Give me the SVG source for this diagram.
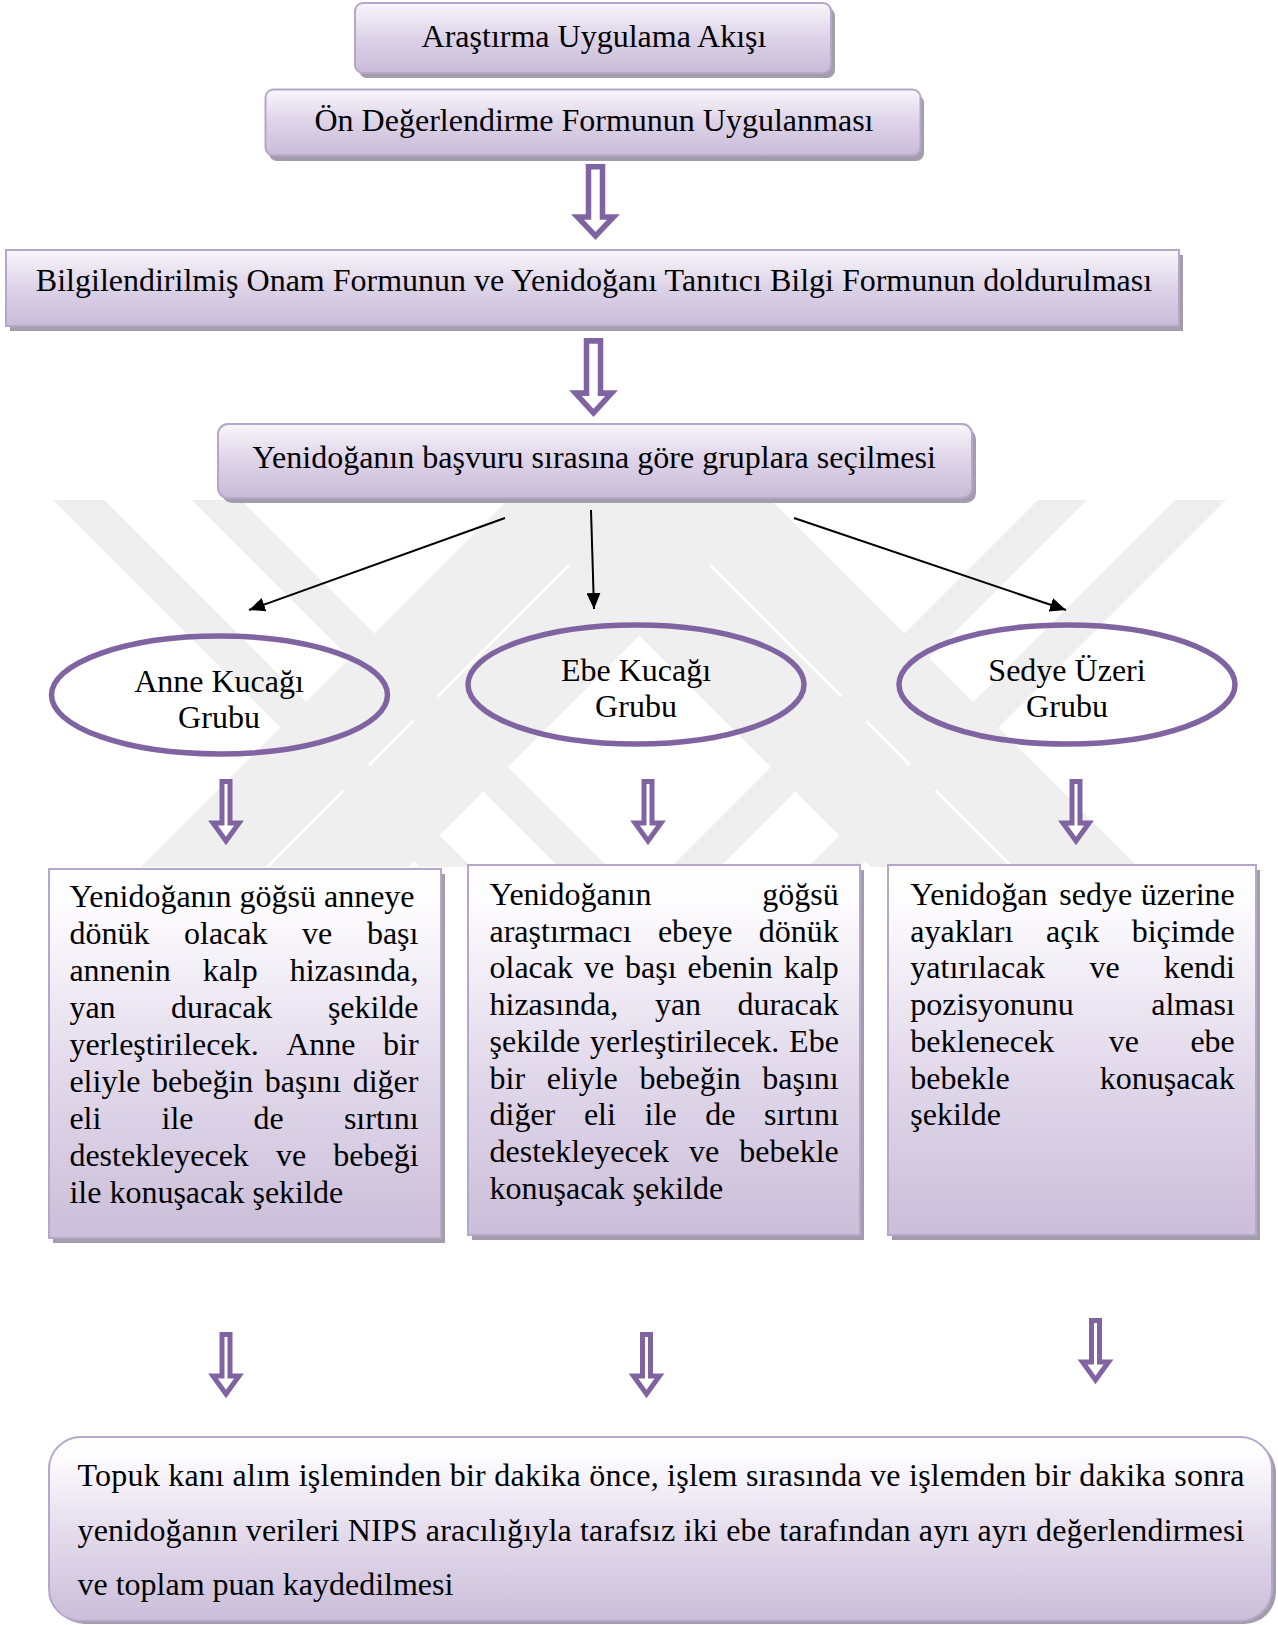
<svg xmlns="http://www.w3.org/2000/svg" width="1278" height="1625" viewBox="0 0 1278 1625">
<defs>
<linearGradient id="gHdr" x1="0" y1="0" x2="0" y2="1">
<stop offset="0" stop-color="#f8f6fb"/>
<stop offset="0.5" stop-color="#ddd3e8"/>
<stop offset="1" stop-color="#c9bbd8"/>
</linearGradient>
<linearGradient id="gTxt" x1="0" y1="0" x2="0" y2="1">
<stop offset="0" stop-color="#ffffff"/>
<stop offset="0.1" stop-color="#fdfcfe"/>
<stop offset="0.55" stop-color="#e2d9eb"/>
<stop offset="1" stop-color="#cbbed9"/>
</linearGradient>
<clipPath id="wmClip"><rect x="50" y="500" width="1180" height="367"/></clipPath>
<marker id="ah" markerUnits="userSpaceOnUse" markerWidth="18" markerHeight="14" refX="16" refY="7" orient="auto">
<path d="M0,0 L16,7 L0,14 Z" fill="#000"/>
</marker>
<path id="bigArrow" d="M-7,2.75 H7 V53 H18 L0,72 L-18,53 H-7 Z"/>
<path id="smallArrow" d="M-4,2.5 H4 V44 H13 L0,62 L-13,44 H-4 Z"/>
</defs>
<style>
.t{font-family:"Liberation Serif","Times New Roman",serif;font-size:32px;fill:#000}
.c{text-anchor:middle}
.e{text-anchor:end}
.box{stroke:#b6a6ca;stroke-width:2}
.hdr{fill:url(#gHdr)}
.txt{fill:url(#gTxt)}
.sh{fill:#a39dab}
.ell{fill:none;stroke:#8064a2;stroke-width:5.5}
.ba{fill:#fff;stroke:#8064a2;stroke-width:5.5;stroke-linejoin:miter}
.sa{fill:#fff;stroke:#8064a2;stroke-width:5;stroke-linejoin:miter}
.con{stroke:#000;stroke-width:2;fill:none}
.wm{fill:#efefef}
</style>
<rect width="1278" height="1625" fill="#fff"/>

<g id="watermark" clip-path="url(#wmClip)">
<polygon class="wm" points="53,500 104,500 471,867 420,867"/>
<polygon class="wm" points="192,500 241,500 608,867 559,867"/>
<polygon class="wm" points="504,500 643,500 1010,867 871,867"/>
<polygon class="wm" points="647,500 771,500 1138,867 1014,867"/>
<polygon class="wm" points="508,500 632,500 265,867 141,867"/>
<polygon class="wm" points="636,500 775,500 408,867 269,867"/>
<polygon class="wm" points="1038,500 1087,500 720,867 671,867"/>
<polygon class="wm" points="1175,500 1226,500 859,867 808,867"/>
</g>

<g id="n1">
<rect class="sh" x="359" y="8" width="476" height="70" rx="8"/>
<rect class="box hdr" x="355" y="3" width="476" height="70" rx="8"/>
<text class="t c" x="594" y="46.5">Araştırma Uygulama Akışı</text>
</g>
<g id="n2">
<rect class="sh" x="269" y="95" width="655" height="66" rx="8"/>
<rect class="box hdr" x="265.5" y="89.5" width="655" height="66" rx="8"/>
<text class="t c" x="594" y="130.5">Ön Değerlendirme Formunun Uygulanması</text>
</g>
<g id="n3">
<rect class="sh" x="10" y="255" width="1173" height="76"/>
<rect class="box hdr" x="6" y="250" width="1173" height="76"/>
<text class="t c" x="594" y="290.5">Bilgilendirilmiş Onam Formunun ve Yenidoğanı Tanıtıcı Bilgi Formunun doldurulması</text>
</g>
<g id="n4">
<rect class="sh" x="222" y="429" width="754" height="74" rx="10"/>
<rect class="box hdr" x="218" y="424" width="754" height="74" rx="10"/>
<text class="t c" x="594" y="468">Yenidoğanın başvuru sırasına göre gruplara seçilmesi</text>
</g>

<g id="connectors">
<use href="#bigArrow" class="ba" transform="translate(595.5,164)"/>
<use href="#bigArrow" class="ba" transform="translate(593.5,338) scale(1,1.04)"/>
<line class="con" x1="505" y1="518" x2="249" y2="610" marker-end="url(#ah)"/>
<line class="con" x1="591" y1="510" x2="594" y2="609" marker-end="url(#ah)"/>
<line class="con" x1="794" y1="518" x2="1066" y2="610" marker-end="url(#ah)"/>
<use href="#smallArrow" class="sa" transform="translate(226,779)"/>
<use href="#smallArrow" class="sa" transform="translate(648,779)"/>
<use href="#smallArrow" class="sa" transform="translate(1076,779)"/>
<use href="#smallArrow" class="sa" transform="translate(226,1332)"/>
<use href="#smallArrow" class="sa" transform="translate(646.5,1332)"/>
<use href="#smallArrow" class="sa" transform="translate(1095.5,1318)"/>
</g>

<g id="g-anne">
<ellipse class="ell" cx="219.5" cy="695" rx="168" ry="59"/>
<text class="t c" x="219" y="691.5">Anne Kucağı</text>
<text class="t c" x="219" y="728">Grubu</text>
</g>
<g id="g-ebe">
<ellipse class="ell" cx="636" cy="684.5" rx="168" ry="59.5"/>
<text class="t c" x="636" y="680.5">Ebe Kucağı</text>
<text class="t c" x="636" y="717">Grubu</text>
</g>
<g id="g-sedye">
<ellipse class="ell" cx="1067" cy="684.5" rx="168" ry="59.5"/>
<text class="t c" x="1067" y="680.5">Sedye Üzeri</text>
<text class="t c" x="1067" y="717">Grubu</text>
</g>

<g id="b-anne">
<rect class="sh" x="53" y="874" width="392" height="369"/>
<rect class="box txt" x="49" y="869" width="392" height="369"/>
<text class="t" y="907"><tspan x="69.4">Yenidoğanın göğsü anneye</tspan></text>
<text class="t" y="944"><tspan x="69.4">dönük</tspan><tspan x="184">olacak</tspan><tspan x="302.1">ve</tspan><tspan x="366.9">başı</tspan></text>
<text class="t" y="981"><tspan x="69.4">annenin</tspan><tspan x="202.7">kalp</tspan><tspan x="289.7">hizasında,</tspan></text>
<text class="t" y="1018"><tspan x="69.4">yan</tspan><tspan x="171.1">duracak</tspan><tspan x="327.9">şekilde</tspan></text>
<text class="t" y="1055"><tspan x="69.4">yerleştirilecek.</tspan><tspan x="286.2">Anne</tspan><tspan x="383">bir</tspan></text>
<text class="t" y="1092"><tspan x="69.4">eliyle</tspan><tspan x="152">bebeğin</tspan><tspan x="264.8">başını</tspan><tspan x="352.7">diğer</tspan></text>
<text class="t" y="1129"><tspan x="69.4">eli</tspan><tspan x="161.5">ile</tspan><tspan x="253.6">de</tspan><tspan x="343.9">sırtını</tspan></text>
<text class="t" y="1166"><tspan x="69.4">destekleyecek</tspan><tspan x="276">ve</tspan><tspan x="333.3">bebeği</tspan></text>
<text class="t" y="1203"><tspan x="69.4">ile konuşacak şekilde</tspan></text>
</g>

<g id="b-ebe">
<rect class="sh" x="472" y="870" width="392" height="370"/>
<rect class="box txt" x="468" y="865" width="392" height="370"/>
<text class="t" y="905"><tspan x="489.5">Yenidoğanın</tspan></text>
<text class="t e" x="838.8" y="905">göğsü</text>
<text class="t" y="941.7"><tspan x="489.5">araştırmacı</tspan><tspan x="657.9">ebeye</tspan></text>
<text class="t e" x="838.8" y="941.7">dönük</text>
<text class="t" y="978.4"><tspan x="489.5">olacak</tspan><tspan x="583.9">ve</tspan><tspan x="625">başı</tspan><tspan x="687.5">ebenin</tspan><tspan x="783.7">kalp</tspan></text>
<text class="t" y="1015.1"><tspan x="489.5">hizasında,</tspan><tspan x="654.9">yan</tspan><tspan x="737.6">duracak</tspan></text>
<text class="t" y="1051.8"><tspan x="489.5">şekilde</tspan><tspan x="590">yerleştirilecek.</tspan><tspan x="789.1">Ebe</tspan></text>
<text class="t" y="1088.5"><tspan x="489.5">bir</tspan><tspan x="546.7">eliyle</tspan><tspan x="639.4">bebeğin</tspan><tspan x="762.3">başını</tspan></text>
<text class="t" y="1125.2"><tspan x="489.5">diğer</tspan><tspan x="583.9">eli</tspan><tspan x="644.6">ile</tspan><tspan x="705.2">de</tspan><tspan x="764.1">sırtını</tspan></text>
<text class="t" y="1161.9"><tspan x="489.5">destekleyecek</tspan><tspan x="689">ve</tspan><tspan x="739.3">bebekle</tspan></text>
<text class="t" y="1198.6"><tspan x="489.5">konuşacak şekilde</tspan></text>
</g>

<g id="b-sedye">
<rect class="sh" x="892" y="870" width="368" height="370"/>
<rect class="box txt" x="888" y="865" width="368" height="370"/>
<text class="t" y="905"><tspan x="910.3">Yenidoğan</tspan><tspan x="1059.3">sedye</tspan></text>
<text class="t e" x="1234.8" y="905">üzerine</text>
<text class="t" y="941.7"><tspan x="910.3">ayakları</tspan><tspan x="1046">açık</tspan></text>
<text class="t e" x="1234.8" y="941.7">biçimde</text>
<text class="t" y="978.4"><tspan x="910.3">yatırılacak</tspan><tspan x="1089.5">ve</tspan></text>
<text class="t e" x="1234.8" y="978.4">kendi</text>
<text class="t" x="910.3" y="1015.1">pozisyonunu</text>
<text class="t e" x="1234.8" y="1015.1">alması</text>
<text class="t" y="1051.8"><tspan x="910.3">beklenecek</tspan><tspan x="1108.8">ve</tspan></text>
<text class="t e" x="1234.8" y="1051.8">ebe</text>
<text class="t" x="910.3" y="1088.5">bebekle</text>
<text class="t e" x="1234.8" y="1088.5">konuşacak</text>
<text class="t" x="910.3" y="1125.2">şekilde</text>
</g>

<g id="b-final">
<rect class="sh" x="53" y="1441" width="1223" height="183" rx="32"/>
<rect class="box txt" x="49" y="1437" width="1223" height="184" rx="32" stroke-width="2.5"/>
<text class="t" x="77.5" y="1486" textLength="1167" lengthAdjust="spacing">Topuk kanı alım işleminden bir dakika önce, işlem sırasında ve işlemden bir dakika sonra</text>
<text class="t" x="77.5" y="1540.5" textLength="1167" lengthAdjust="spacing">yenidoğanın verileri NIPS aracılığıyla tarafsız iki ebe tarafından ayrı ayrı değerlendirmesi</text>
<text class="t" x="77.5" y="1595">ve toplam puan kaydedilmesi</text>
</g>
</svg>
